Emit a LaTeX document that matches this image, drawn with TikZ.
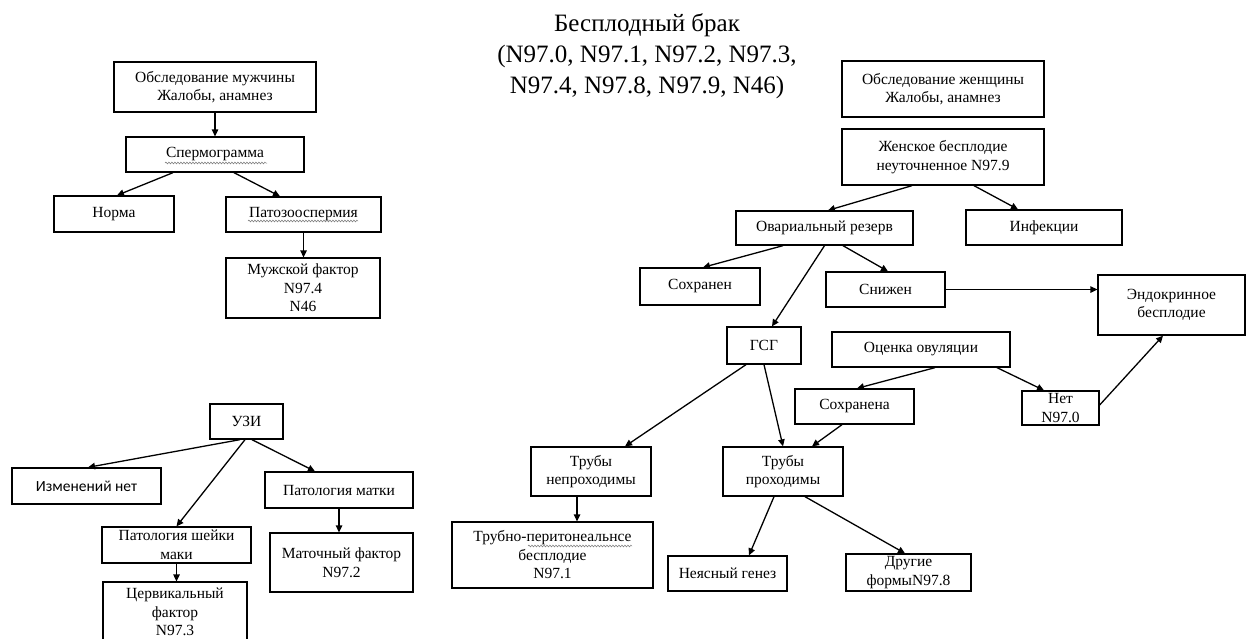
\documentclass[tikz,border=0pt]{standalone}
\usepackage{fontspec}
\setmainfont{Liberation Serif}
\newfontfamily\calib{Carlito}
\usetikzlibrary{arrows.meta, decorations.pathmorphing}

\begin{document}
\begin{tikzpicture}[x=1pt, y=-1pt, line width=1.3pt,
    box/.style={draw, align=center, inner sep=1pt, font=\fontsize{15.5}{18.5}\selectfont},
    wh/.style 2 args={minimum width=#1pt, minimum height=#2pt},
    arr/.style={-{Triangle[length=7pt,width=6.5pt]}},
    wavy/.style={draw=black!55, line width=0.5pt, decorate, decoration={snake, amplitude=0.9pt, segment length=3pt}}]
\useasboundingbox (0,0) rectangle (1246,638);

\node [align=center, font=\fontsize{25}{31}\selectfont] (title) at (647,56) {Бесплодный брак\\(N97.0, N97.1, N97.2, N97.3,\\N97.4, N97.8, N97.9, N46)};

% men
\node [box, wh={202}{50}] (men) at (215,87) {Обследование мужчины\\Жалобы, анамнез};
\node [box, wh={178}{35}] (sperm) at (215,154.5) {Спермограмма};
\node [box, wh={120}{36}] (norma) at (114,214) {Норма};
\node [box, wh={155}{35}] (pato) at (303.5,214.5) {Патозооспермия};
\node [box, wh={154}{60}] (muzh) at (303,288) {Мужской фактор\\N97.4\\N46};

% uzi
\node [box, wh={73}{35}] (uzi) at (246.5,421.5) {УЗИ};
\node [box, wh={149}{36}, font=\calib\fontsize{15.5}{18.5}\selectfont] (izmen) at (86.5,486) {Изменений нет};
\node [box, wh={148}{36}] (pmatki) at (339,490) {Патология матки};
\node [box, wh={149}{36}] (psheyki) at (176.5,545) {Патология шейки\\маки};
\node [box, wh={144}{60}] (cerv) at (175,612) {Цервикальный\\фактор\\N97.3};
\node [box, wh={143}{59}] (matoch) at (341.5,562.5) {Маточный фактор\\N97.2};

% women
\node [box, wh={202}{56}] (women) at (943,89) {Обследование женщины\\Жалобы, анамнез};
\node [box, wh={202}{56}] (zhensk) at (943,157) {Женское бесплодие\\неуточненное N97.9};
\node [box, wh={177}{34}] (ovar) at (824.5,228) {Овариальный резерв};
\node [box, wh={156}{35}] (infek) at (1044,227.5) {Инфекции};
\node [box, wh={120}{37}] (sokhr) at (700,286.5) {Сохранен};
\node [box, wh={119}{35}] (snizh) at (885.5,289.5) {Снижен};
\node [box, wh={147}{60}] (endo) at (1171.5,305) {Эндокринное\\бесплодие};
\node [box, wh={74}{37}] (gsg) at (764,345.5) {ГСГ};
\node [box, wh={178}{35}] (ocenka) at (921,349.5) {Оценка овуляции};
\node [box, wh={119}{35}] (sokhrna) at (854.5,406.5) {Сохранена};
\node [box, wh={77}{34}] (net) at (1060.5,408) {Нет\\N97.0};
\node [box, wh={120}{49}] (tneprokh) at (591,471.5) {Трубы\\непроходимы};
\node [box, wh={120}{49}] (tprokh) at (783,471.5) {Трубы\\проходимы};
\node [box, wh={201}{66}] (trubno) at (552.5,555) {Трубно-перитонеальнсе\\бесплодие\\N97.1};
\node [box, wh={119}{35}] (neyas) at (727.5,573.5) {Неясный генез};
\node [box, wh={125}{37}] (drugie) at (908.5,572.5) {Другие\\формыN97.8};

% spelling squiggles
\draw [wavy] (165,163) -- (267,163);
\draw [wavy] (248,221) -- (358,221);
\draw [wavy] (528,546) -- (632,546);

% arrows, men
\draw [arr] (men.south) -- (sperm.north);
\draw [arr] ([xshift=-42pt]sperm.south) -- ([xshift=3pt]norma.north);
\draw [arr] ([xshift=19pt]sperm.south) -- ([xshift=-23.5pt]pato.north);
\draw [arr] (pato.south) -- (pato.south |- muzh.north);

% arrows, uzi
\draw [arr] ([xshift=-6.5pt]uzi.south) -- ([xshift=1.5pt]izmen.north);
\draw [arr] ([xshift=-1.5pt]uzi.south) -- (psheyki.north);
\draw [arr] ([xshift=5.5pt]uzi.south) -- ([xshift=-24pt]pmatki.north);
\draw [arr] (pmatki.south) -- (pmatki.south |- matoch.north);
\draw [arr] (psheyki.south) -- (psheyki.south |- cerv.north);

% arrows, women
\draw [arr] ([xshift=-31pt]zhensk.south) -- ([xshift=3.5pt]ovar.north);
\draw [arr] ([xshift=31pt]zhensk.south) -- ([xshift=-26pt]infek.north);
\draw [arr] ([xshift=-41.5pt]ovar.south) -- ([xshift=3pt]sokhr.north);
\draw [arr] ([xshift=18.5pt]ovar.south) -- ([xshift=2.5pt]snizh.north);
\draw [arr] (ovar.south) -- ([xshift=8pt]gsg.north);
\draw [arr] (snizh.east) -- (snizh.east -| endo.west);
\draw [arr] ([xshift=14pt]ocenka.south) -- ([xshift=2.5pt]sokhrna.north);
\draw [arr] ([xshift=76pt]ocenka.south) -- ([xshift=-16.5pt]net.north);
\draw [arr] ([yshift=3pt]net.east) -- ([xshift=-8.5pt]endo.south);
\draw [arr] ([xshift=-18pt]gsg.south) -- ([xshift=34pt]tneprokh.north);
\draw [arr] (gsg.south) -- (tprokh.north);
\draw [arr] ([xshift=-12.5pt]sokhrna.south) -- ([xshift=29pt]tprokh.north);
\draw [arr] ([xshift=-14pt]tneprokh.south) -- ([xshift=-14pt]tneprokh.south |- trubno.north);
\draw [arr] ([xshift=-9pt]tprokh.south) -- ([xshift=21.5pt]neyas.north);
\draw [arr] ([xshift=22pt]tprokh.south) -- ([xshift=-3.5pt]drugie.north);
\end{tikzpicture}
\end{document}
